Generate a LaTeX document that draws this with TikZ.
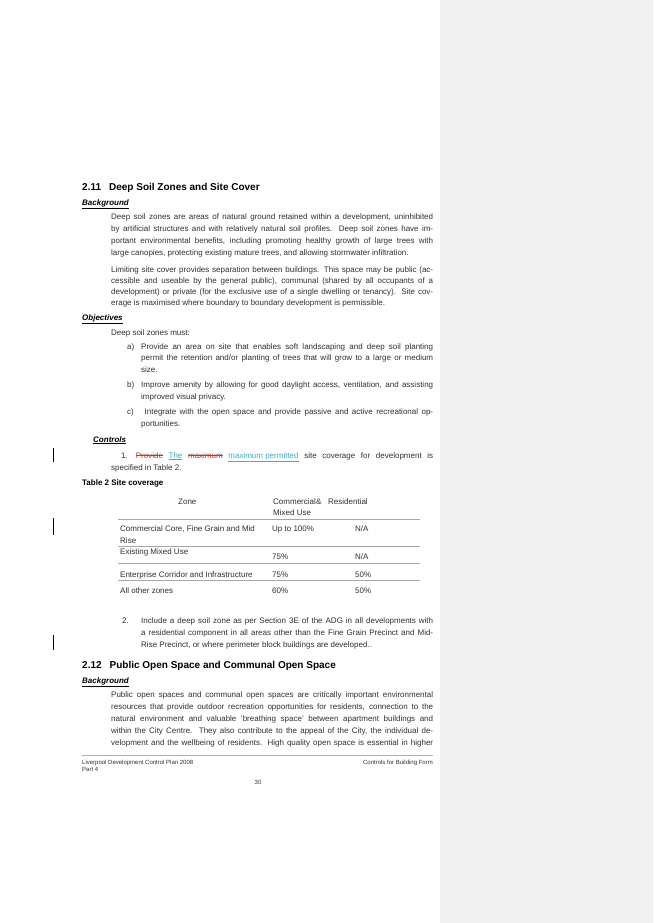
\documentclass[tikz,border=0pt]{standalone}
\usepackage{fontspec}
\setmainfont{Liberation Sans}
\definecolor{sidebar}{HTML}{F0F0F0}
\definecolor{txt}{HTML}{303030}
\definecolor{del}{HTML}{C0392B}
\definecolor{ins}{HTML}{3AAFC8}
\newsavebox\mysbx
\newcommand{\strk}[1]{\sbox\mysbx{#1}\rlap{\rule[2.6pt]{\wd\mysbx}{0.4pt}}\usebox\mysbx}
\newcommand{\ul}[1]{\underline{#1}}
\newcommand{\jl}[1]{\makebox[322pt][s]{#1}}
\newcommand{\jm}[1]{\makebox[292pt][s]{#1}}
\begin{document}
\begin{tikzpicture}[x=1pt,y=-1pt,
  body/.style={anchor=base west,inner sep=0pt,font=\fontsize{8}{9}\selectfont,text=txt},
  head/.style={anchor=base west,inner sep=0pt,font=\fontsize{10}{11}\selectfont\bfseries,text=black},
  sub/.style={anchor=base west,inner sep=0pt,font=\fontsize{8}{9}\selectfont\bfseries\itshape,text=black},
  foot/.style={anchor=base west,inner sep=0pt,font=\fontsize{6}{7}\selectfont,text=txt},
  rule/.style={draw=gray!70,line width=0.6pt},
  bar/.style={draw=black,line width=0.5pt}]
\useasboundingbox (0,0) rectangle (653,923);
\fill[white] (0,0) rectangle (653,923);
\fill[sidebar] (440,0) rectangle (653,923);
% 2.11
\node[head] (h1) at (82,190) {2.11\hspace{8pt}Deep Soil Zones and Site Cover};
\node[sub] (bg1) at (82,205) {\ul{Background}};
\node[body] (p1) at (111,219) {\jl{Deep soil zones are areas of natural ground retained within a development, uninhibited}};
\node[body] (p2) at (111,231) {\jl{by artificial structures and with relatively natural soil profiles. Deep soil zones have im-}};
\node[body] (p3) at (111,243) {\jl{portant environmental benefits, including promoting healthy growth of large trees with}};
\node[body] (p4) at (111,255) {large canopies, protecting existing mature trees, and allowing stormwater infiltration.};
\node[body] (q1) at (111,272) {\jl{Limiting site cover provides separation between buildings. This space may be public (ac-}};
\node[body] (q2) at (111,283) {\jl{cessible and useable by the general public), communal (shared by all occupants of a}};
\node[body] (q3) at (111,294) {\jl{development) or private (for the exclusive use of a single dwelling or tenancy). Site cov-}};
\node[body] (q4) at (111,305) {erage is maximised where boundary to boundary development is permissible.};
\node[sub] (ob) at (82,320) {\ul{Objectives}};
\node[body] (ds) at (111,335) {Deep soil zones must:};
\node[body] (la) at (127,349) {a)};
\node[body] (a1) at (141,349) {\jm{Provide an area on site that enables soft landscaping and deep soil planting}};
\node[body] (a2) at (141,360) {\jm{permit the retention and/or planting of trees that will grow to a large or medium}};
\node[body] (a3) at (141,372) {size.};
\node[body] (lb) at (127,387) {b)};
\node[body] (b1) at (141,387) {\jm{Improve amenity by allowing for good daylight access, ventilation, and assisting}};
\node[body] (b2) at (141,399) {improved visual privacy.};
\node[body] (lc) at (127,414) {c)};
\node[body] (c1) at (141,414) {\jm{\ Integrate with the open space and provide passive and active recreational op-}};
\node[body] (c2) at (141,426) {portunities.};
\node[sub] (ct) at (93,442) {\ul{Controls}};
\node[body] (k1) at (111,458) {\makebox[322pt][s]{\hspace{10pt}1.\hspace{8pt}{\color{del}\strk{Provide}} {\color{ins}\ul{The}} {\color{del}\strk{maximum}} {\color{ins}\ul{maximum permitted}} site coverage for development is}};
\node[body] (k2) at (111,470) {specified in Table 2.};
\node[head,font=\fontsize{8}{9}\selectfont\bfseries] (t2) at (82,485) {Table 2 Site coverage};
% table
\node[body] (tz) at (178,504) {Zone};
\node[body] (tc) at (273,504) {Commercial};
\node[body] (ta) at (316,504) {\&};
\node[body] (tr) at (328,504) {Residential};
\node[body] (tm) at (273,515) {Mixed Use};
\draw[rule] (118,519) -- (420,519);
\node[body] (r1) at (120,531) {Commercial Core, Fine Grain and Mid};
\node[body] (r1b) at (120,543) {Rise};
\node[body] (r1c) at (272,531) {Up to 100\%};
\node[body] (r1r) at (355,531) {N/A};
\draw[rule] (118,546) -- (420,546);
\node[body] (r2) at (120,554) {Existing Mixed Use};
\node[body] (r2c) at (272,559) {75\%};
\node[body] (r2r) at (355,559) {N/A};
\draw[rule] (118,563) -- (420,563);
\node[body] (r3) at (120,577) {Enterprise Corridor and Infrastructure};
\node[body] (r3c) at (272,577) {75\%};
\node[body] (r3r) at (355,577) {50\%};
\draw[rule] (118,580) -- (420,580);
\node[body] (r4) at (120,593) {All other zones};
\node[body] (r4c) at (272,593) {60\%};
\node[body] (r4r) at (355,593) {50\%};
% item 2
\node[body] (n2) at (122,623) {2.};
\node[body] (i1) at (141,623) {\jm{Include a deep soil zone as per Section 3E of the ADG in all developments with}};
\node[body] (i2) at (141,635) {\jm{a residential component in all areas other than the Fine Grain Precinct and Mid-}};
\node[body] (i3) at (141,647) {Rise Precinct, or where perimeter block buildings are developed.{\color{del}.}};
% 2.12
\node[head] (h2) at (82,668) {2.12\hspace{8pt}Public Open Space and Communal Open Space};
\node[sub] (bg2) at (82,683) {\ul{Background}};
\node[body] (s1) at (111,697) {\jl{Public open spaces and communal open spaces are critically important environmental}};
\node[body] (s2) at (111,709) {\jl{resources that provide outdoor recreation opportunities for residents, connection to the}};
\node[body] (s3) at (111,721) {\jl{natural environment and valuable `breathing space' between apartment buildings and}};
\node[body] (s4) at (111,733) {\jl{within the City Centre.\ \ They also contribute to the appeal of the City, the individual de-}};
\node[body] (s5) at (111,745) {\jl{velopment and the wellbeing of residents. High quality open space is essential in higher}};
% footer
\draw[draw=gray!60,line width=0.8pt] (82,755) -- (433,755);
\node[foot] (f1) at (82,764) {Liverpool Development Control Plan 2008};
\node[foot] (f2) at (82,771) {Part 4};
\node[foot,anchor=base east] (f3) at (433,764) {Controls for Building Form};
\node[foot,anchor=base] (pg) at (258,784) {30};
% change bars
\draw[bar] (53,448) -- (53,462);
\draw[bar] (53,518) -- (53,535);
\draw[bar] (53,635) -- (53,650);
\end{tikzpicture}
\end{document}
